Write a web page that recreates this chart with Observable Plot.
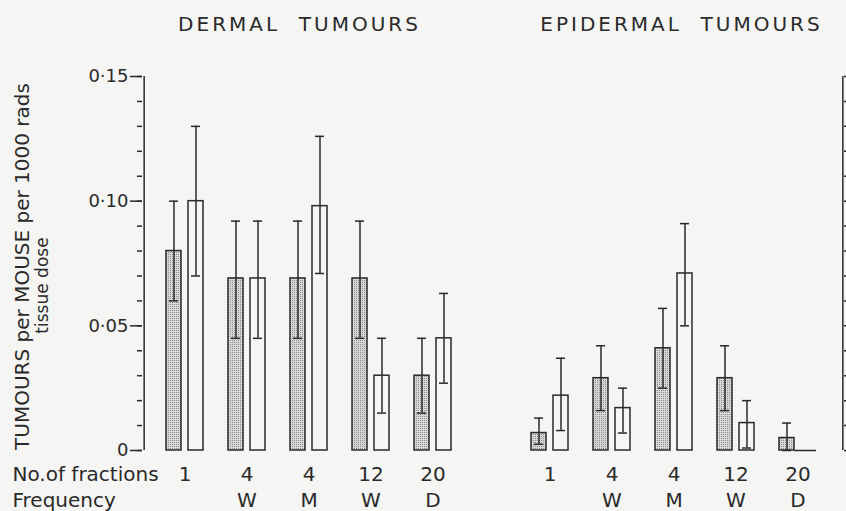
<!DOCTYPE html>
<html><head><meta charset="utf-8">
<script src="https://cdn.jsdelivr.net/npm/d3@7"></script>
<script src="https://cdn.jsdelivr.net/npm/@observablehq/plot@0.6"></script>
<style>
html,body{margin:0;padding:0;background:#f5f5f3;}
#chart svg{display:block;background:#f5f5f3;font-family:"DejaVu Sans",sans-serif;}
</style></head><body><div id="chart"></div>
<script>
const panels = ["DERMAL\u00a0\u00a0TUMOURS", "EPIDERMAL\u00a0\u00a0TUMOURS"];
const fractions = ["1", "4", "4", "12", "20"];
const frequency = ["", "W", "M", "W", "D"];

// Dermal tumours
const dermalShaded   = [0.080, 0.069, 0.069, 0.069, 0.030];
const dermalShadedLo = [0.060, 0.045, 0.045, 0.045, 0.015];
const dermalShadedHi = [0.100, 0.092, 0.092, 0.092, 0.045];
const dermalOpen     = [0.100, 0.069, 0.098, 0.030, 0.045];
const dermalOpenLo   = [0.070, 0.045, 0.071, 0.015, 0.027];
const dermalOpenHi   = [0.130, 0.092, 0.126, 0.045, 0.063];

// Epidermal tumours
const epiShaded   = [0.007, 0.029, 0.041, 0.029, 0.005];
const epiShadedLo = [0.0025, 0.016, 0.025, 0.016, 0.000];
const epiShadedHi = [0.013, 0.042, 0.057, 0.042, 0.011];
const epiOpen     = [0.022, 0.017, 0.071, 0.011, 0];
const epiOpenLo   = [0.008, 0.007, 0.050, 0.001, null];
const epiOpenHi   = [0.037, 0.025, 0.091, 0.020, null];

const yMajorTicks = [0, 0.05, 0.10, 0.15];
const yTickLabels = ["0", "0·05", "0·10", "0·15"];
const yMinorTicks = [0, 0.01, 0.02, 0.03, 0.04, 0.05, 0.06, 0.07, 0.08, 0.09, 0.10, 0.11, 0.12, 0.13, 0.14, 0.15];
const yDomain = [0, 0.15];
const rowLabels = "No.of fractions\nFrequency";
const yLabel1 = "TUMOURS per MOUSE per 1000 rads";
const yLabel2 = "tissue dose";

const keys = fractions.map((f, i) => f + "\n" + frequency[i]);
const rows = [];
panels.forEach((panel, p) => {
  const S = p ? [epiShaded, epiShadedLo, epiShadedHi] : [dermalShaded, dermalShadedLo, dermalShadedHi];
  const O = p ? [epiOpen, epiOpenLo, epiOpenHi] : [dermalOpen, dermalOpenLo, dermalOpenHi];
  keys.forEach((k, i) => {
    rows.push({panel, key: k, series: "shaded", value: S[0][i], lo: S[1][i], hi: S[2][i]});
    rows.push({panel, key: k, series: "open", value: O[0][i], lo: O[1][i], hi: O[2][i]});
  });
});
const shaded = rows.filter(d => d.series === "shaded");
const open = rows.filter(d => d.series === "open");
const openBars = open.filter(d => d.value > 0);
const openZero = open.filter(d => d.value === 0);
const openErr = open.filter(d => d.lo != null);

const ink = "#2a2a2a";
const bg = "#f5f5f3";
const sw = 1.5;

// layout parameters
const W = 846, H = 511, mL = 142, mR = 3, mT = 76, mB = 61;
const fxPadIn = 0.08, xPadIn = 0.41, xPadOut = 0.39, xAlign = 0.459;
// offsets of the frame edges from the first / last band centres (to draw the axis lines)
const fxStep = (W - mL - mR) / (panels.length - fxPadIn);
const panelW = fxStep * (1 - fxPadIn);
const xStep = panelW / (keys.length - xPadIn + 2 * xPadOut);
const firstCentre = xStep * 2 * xPadOut * xAlign + xStep * (1 - xPadIn) / 2;
const lastCentre = firstCentre + xStep * (keys.length - 1);

const svg = Plot.plot({
  width: W,
  height: H,
  marginLeft: mL,
  marginRight: mR,
  marginTop: mT,
  marginBottom: mB,
  style: {background: bg, color: ink, fontFamily: "DejaVu Sans, sans-serif"},
  fx: {domain: panels, paddingInner: fxPadIn, paddingOuter: 0, axis: null, label: null},
  x: {domain: keys, paddingInner: xPadIn, paddingOuter: xPadOut, align: xAlign, axis: null},
  y: {domain: yDomain, axis: null},
  marks: [
    Plot.barY(shaded, {fx: "panel", x: "key", y: "value", fill: "url(#stipple)", stroke: ink, strokeWidth: sw, insetRight: 22}),
    Plot.barY(openBars, {fx: "panel", x: "key", y: "value", fill: bg, stroke: ink, strokeWidth: sw, insetLeft: 22}),
    Plot.tickY(openZero, {fx: "panel", x: "key", y: "value", stroke: ink, strokeWidth: sw, insetLeft: 15}),
    Plot.ruleX(shaded, {fx: "panel", x: "key", y1: "lo", y2: "hi", dx: -11, stroke: ink, strokeWidth: sw}),
    Plot.tickY(shaded, {fx: "panel", x: "key", y: "hi", stroke: ink, strokeWidth: sw, insetLeft: 3, insetRight: 25}),
    Plot.tickY(shaded, {fx: "panel", x: "key", y: "lo", stroke: ink, strokeWidth: sw, insetLeft: 3, insetRight: 25}),
    Plot.ruleX(openErr, {fx: "panel", x: "key", y1: "lo", y2: "hi", dx: 11, stroke: ink, strokeWidth: sw}),
    Plot.tickY(openErr, {fx: "panel", x: "key", y: "hi", stroke: ink, strokeWidth: sw, insetLeft: 25, insetRight: 3}),
    Plot.tickY(openErr, {fx: "panel", x: "key", y: "lo", stroke: ink, strokeWidth: sw, insetLeft: 25, insetRight: 3}),
    // axis lines (left of dermal panel, right of epidermal panel)
    Plot.ruleX([{panel: panels[0], key: keys[0]}], {fx: "panel", x: "key", y1: yDomain[0], y2: yDomain[1], dx: -firstCentre, stroke: ink, strokeWidth: sw}),
    Plot.ruleX([{panel: panels[1], key: keys[keys.length - 1]}], {fx: "panel", x: "key", y1: yDomain[0], y2: yDomain[1], dx: panelW - lastCentre, stroke: ink, strokeWidth: sw}),
    Plot.axisY({anchor: "left", ticks: yMinorTicks, tickSize: 5, tickFormat: () => "", label: null, stroke: ink, strokeWidth: sw}),
    Plot.axisY({anchor: "left", ticks: yMajorTicks, tickSize: 12, tickPadding: 2, tickFormat: d => yTickLabels[yMajorTicks.indexOf(d)], label: null, fontSize: 18, fill: ink, stroke: ink, strokeWidth: sw}),
    Plot.axisY({anchor: "right", ticks: yMinorTicks, tickSize: 5, tickFormat: () => "", label: null, stroke: ink, strokeWidth: sw}),
    Plot.axisX({anchor: "bottom", tickSize: 0, tickPadding: 12, fontSize: 20, lineHeight: 1.3, label: null, fill: ink}),
    Plot.text([{panel: panels[0]}], {fx: "panel", frameAnchor: "top", text: "panel", dx: -11, dy: -46, lineAnchor: "bottom", fontSize: 20, fill: ink}),
    Plot.text([{panel: panels[1]}], {fx: "panel", frameAnchor: "top", text: "panel", dx: 6, dy: -46, lineAnchor: "bottom", fontSize: 20, fill: ink}),
    Plot.text([{panel: panels[0], t: rowLabels}], {fx: "panel", frameAnchor: "bottom-left", text: "t", dx: -130, dy: 12, lineAnchor: "top", textAnchor: "start", fontSize: 20, lineHeight: 1.3, fill: ink}),
    Plot.text([{panel: panels[0], t: yLabel1}], {fx: "panel", frameAnchor: "left", text: "t", rotate: -90, dx: -120, dy: 3, lineAnchor: "middle", textAnchor: "middle", fontSize: 20, fill: ink}),
    Plot.text([{panel: panels[0], t: yLabel2}], {fx: "panel", frameAnchor: "left", text: "t", rotate: -90, dx: -100, dy: 22, lineAnchor: "middle", textAnchor: "middle", fontSize: 17, fill: ink})
  ]
});

const defs = d3.select(svg).insert("defs", ":first-child");
const pat = defs.append("pattern").attr("id", "stipple").attr("patternUnits", "userSpaceOnUse").attr("width", 2).attr("height", 2);
pat.append("rect").attr("width", 2).attr("height", 2).attr("fill", "#d8d8d6");
pat.append("rect").attr("width", 1).attr("height", 1).attr("fill", "#8c8c8a");

// wide lettering of the panel titles
d3.select(svg).selectAll("text").filter(function() { return panels.includes(this.textContent); })
  .attr("letter-spacing", 3);

document.getElementById("chart").appendChild(svg);
</script>
</body></html>
